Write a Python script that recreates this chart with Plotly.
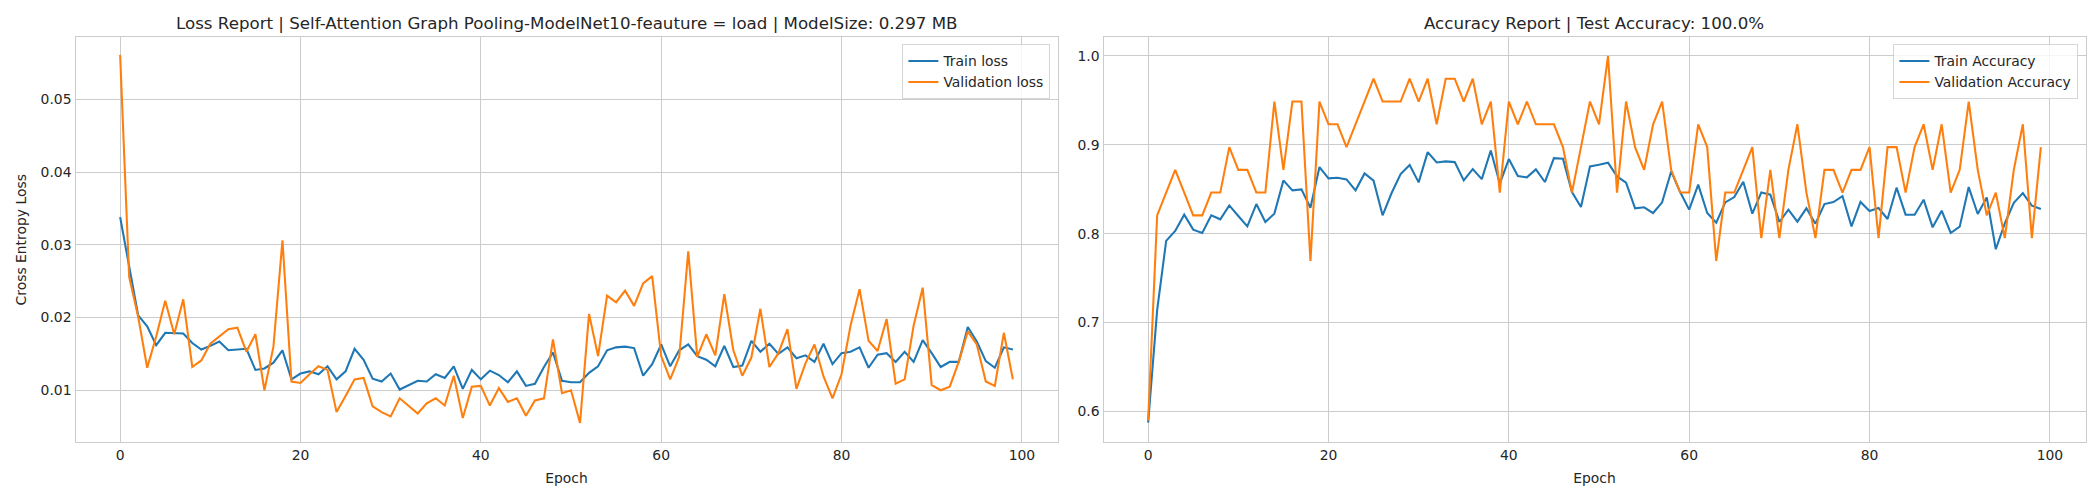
import plotly.graph_objects as go

epochs = list(range(100))

train_loss = [
    0.0338, 0.0270, 0.0203, 0.0188, 0.0162, 0.0179, 0.0179, 0.0178, 0.0165, 0.0156,
    0.0161, 0.0167, 0.0155, 0.0156, 0.0157, 0.0128, 0.0130, 0.0138, 0.0155, 0.0115,
    0.0123, 0.0126, 0.0122, 0.0133, 0.0115, 0.0126, 0.0157, 0.0142, 0.0116, 0.0112,
    0.0123, 0.0101, 0.0107, 0.0113, 0.0112, 0.0122, 0.0117, 0.0133, 0.0102, 0.0128,
    0.0115, 0.0127, 0.0121, 0.0111, 0.0126, 0.0106, 0.0109, 0.0132, 0.0152, 0.0113,
    0.0111, 0.0111, 0.0124, 0.0133, 0.0155, 0.0159, 0.0160, 0.0158, 0.0120, 0.0136,
    0.0163, 0.0133, 0.0155, 0.0163, 0.0147, 0.0142, 0.0133, 0.0161, 0.0132, 0.0134,
    0.0168, 0.0153, 0.0164, 0.0150, 0.0159, 0.0144, 0.0148, 0.0139, 0.0164, 0.0136,
    0.0151, 0.0153, 0.0159, 0.0131, 0.0149, 0.0151, 0.0139, 0.0153, 0.0139, 0.0169,
    0.0151, 0.0132, 0.0139, 0.0139, 0.0187, 0.0167, 0.0140, 0.0131, 0.0159, 0.0156,
]
val_loss = [
    0.0561, 0.0256, 0.0201, 0.0131, 0.0174, 0.0223, 0.0177, 0.0225, 0.0132, 0.0141,
    0.0164, 0.0174, 0.0184, 0.0186, 0.0153, 0.0177, 0.0100, 0.0160, 0.0306, 0.0112,
    0.0110, 0.0122, 0.0133, 0.0128, 0.0070, 0.0092, 0.0115, 0.0117, 0.0078, 0.0070,
    0.0064, 0.0089, 0.0079, 0.0068, 0.0082, 0.0089, 0.0079, 0.0120, 0.0062, 0.0105,
    0.0106, 0.0079, 0.0103, 0.0084, 0.0089, 0.0065, 0.0086, 0.0089, 0.0170, 0.0096,
    0.0100, 0.0055, 0.0205, 0.0147, 0.0230, 0.0221, 0.0237, 0.0216, 0.0247, 0.0257,
    0.0147, 0.0115, 0.0146, 0.0291, 0.0146, 0.0177, 0.0148, 0.0232, 0.0155, 0.0120,
    0.0145, 0.0212, 0.0132, 0.0151, 0.0184, 0.0102, 0.0137, 0.0163, 0.0119, 0.0089,
    0.0122, 0.0189, 0.0239, 0.0168, 0.0154, 0.0198, 0.0109, 0.0115, 0.0189, 0.0241,
    0.0107, 0.0100, 0.0105, 0.0139, 0.0181, 0.0163, 0.0112, 0.0106, 0.0179, 0.0115,
]
train_acc = [
    0.5873, 0.7139, 0.7918, 0.8030, 0.8213, 0.8045, 0.8007, 0.8206, 0.8161, 0.8318,
    0.8199, 0.8082, 0.8333, 0.8131, 0.8225, 0.8599, 0.8487, 0.8498, 0.8292, 0.8749,
    0.8622, 0.8629, 0.8610, 0.8487, 0.8678, 0.8596, 0.8206, 0.8457, 0.8670, 0.8772,
    0.8577, 0.8918, 0.8801, 0.8813, 0.8805, 0.8599, 0.8727, 0.8614, 0.8936, 0.8562,
    0.8839, 0.8648, 0.8633, 0.8723, 0.8581, 0.8850, 0.8843, 0.8468, 0.8300, 0.8757,
    0.8775, 0.8798, 0.8644, 0.8573, 0.8285, 0.8296, 0.8232, 0.8352, 0.8700, 0.8468,
    0.8270, 0.8551, 0.8232, 0.8124, 0.8352, 0.8412, 0.8584, 0.8225, 0.8464, 0.8438,
    0.8131, 0.8270, 0.8135, 0.8285, 0.8112, 0.8333, 0.8356, 0.8423, 0.8082, 0.8356,
    0.8255, 0.8288, 0.8165, 0.8517, 0.8213, 0.8213, 0.8382, 0.8071, 0.8258, 0.8007,
    0.8079, 0.8524, 0.8221, 0.8408, 0.7824, 0.8116, 0.8348, 0.8457, 0.8315, 0.8277,
]
val_acc = [
    0.5897, 0.8205, 0.8462, 0.8718, 0.8462, 0.8205, 0.8205, 0.8462, 0.8462, 0.8974,
    0.8718, 0.8718, 0.8462, 0.8462, 0.9487, 0.8718, 0.9487, 0.9487, 0.7692, 0.9487,
    0.9231, 0.9231, 0.8974, 0.9231, 0.9487, 0.9744, 0.9487, 0.9487, 0.9487, 0.9744,
    0.9487, 0.9744, 0.9231, 0.9744, 0.9744, 0.9487, 0.9744, 0.9231, 0.9487, 0.8462,
    0.9487, 0.9231, 0.9487, 0.9231, 0.9231, 0.9231, 0.8974, 0.8462, 0.8974, 0.9487,
    0.9231, 1.0000, 0.8462, 0.9487, 0.8974, 0.8718, 0.9231, 0.9487, 0.8718, 0.8462,
    0.8462, 0.9231, 0.8974, 0.7692, 0.8462, 0.8462, 0.8718, 0.8974, 0.7949, 0.8718,
    0.7949, 0.8718, 0.9231, 0.8462, 0.7949, 0.8718, 0.8718, 0.8462, 0.8718, 0.8718,
    0.8974, 0.7949, 0.8974, 0.8974, 0.8462, 0.8974, 0.9231, 0.8718, 0.9231, 0.8462,
    0.8718, 0.9487, 0.8718, 0.8205, 0.8462, 0.7949, 0.8718, 0.9231, 0.7949, 0.8974,
]

x_ticks = [0, 20, 40, 60, 80, 100]
loss_ticks = [0.01, 0.02, 0.03, 0.04, 0.05]
loss_tick_labels = ["0.01", "0.02", "0.03", "0.04", "0.05"]
acc_ticks = [0.6, 0.7, 0.8, 0.9, 1.0]
acc_tick_labels = ["0.6", "0.7", "0.8", "0.9", "1.0"]

title_loss = "Loss Report | Self-Attention Graph Pooling-ModelNet10-feauture = load | ModelSize: 0.297 MB"
title_acc = "Accuracy Report | Test Accuracy: 100.0%"

BLUE = "#1f77b4"
ORANGE = "#ff7f0e"
TXT = "#262626"
GRID = "#cccccc"
FONT = "DejaVu Sans"
W, H = 2100, 500


def xf(px):
    return px / W


def yf(py):
    return 1 - py / H


L1, R1, L2, R2, TOP, BOT = 75.5, 1057.5, 1103.5, 2085.5, 37.3, 442.3

fig = go.Figure()


def line(y, name, color, xa, ya, legend):
    fig.add_trace(go.Scatter(
        x=epochs, y=y, name=name, mode="lines",
        line=dict(color=color, width=2.08),
        xaxis=xa, yaxis=ya, legend=legend,
    ))


line(train_loss, "Train loss", BLUE, "x", "y", "legend")
line(val_loss, "Validation loss", ORANGE, "x", "y", "legend")
line(train_acc, "Train Accuracy", BLUE, "x2", "y2", "legend2")
line(val_acc, "Validation Accuracy", ORANGE, "x2", "y2", "legend2")

axis_common = dict(
    showgrid=True, gridcolor=GRID, gridwidth=1.39,
    showline=True, linecolor=GRID, linewidth=1.39, mirror=True,
    zeroline=False, ticks="", tickfont=dict(family=FONT, size=13.9, color=TXT),
)
title_font = dict(family=FONT, size=13.9, color=TXT)
legend_common = dict(
    bgcolor="rgba(255,255,255,0.8)", bordercolor="rgba(204,204,204,0.8)", borderwidth=1.39,
    font=dict(family=FONT, size=13.9, color=TXT),
    xanchor="right", yanchor="top", itemwidth=30, tracegroupgap=0,
)

fig.update_layout(
    width=W, height=H, autosize=False,
    margin=dict(l=0, r=0, t=0, b=0),
    paper_bgcolor="white", plot_bgcolor="white",
    font=dict(family=FONT, color=TXT),
    xaxis=dict(domain=[xf(L1), xf(R1)], range=[-4.95, 103.95], tickvals=x_ticks,
               title=dict(text="Epoch", font=title_font, standoff=11), anchor="y", **axis_common),
    yaxis=dict(domain=[yf(BOT), yf(TOP)], range=[0.00285, 0.05852], tickvals=loss_ticks,
               ticktext=loss_tick_labels,
               title=dict(text="Cross Entropy Loss", font=title_font, standoff=10), anchor="x", **axis_common),
    xaxis2=dict(domain=[xf(L2), xf(R2)], range=[-4.95, 103.95], tickvals=x_ticks,
                title=dict(text="Epoch", font=title_font, standoff=11), anchor="y2", **axis_common),
    yaxis2=dict(domain=[yf(BOT), yf(TOP)], range=[0.5651, 1.021], tickvals=acc_ticks,
                ticktext=acc_tick_labels, anchor="x2", **axis_common),
    legend=dict(x=xf(1050), y=yf(44), **legend_common),
    legend2=dict(x=xf(2078), y=yf(44), **legend_common),
    annotations=[
        dict(text=title_loss, x=xf((L1 + R1) / 2), y=yf(35), xref="paper", yref="paper",
             xanchor="center", yanchor="bottom", showarrow=False,
             font=dict(family=FONT, size=16.67, color=TXT)),
        dict(text=title_acc, x=xf((L2 + R2) / 2), y=yf(35), xref="paper", yref="paper",
             xanchor="center", yanchor="bottom", showarrow=False,
             font=dict(family=FONT, size=16.67, color=TXT)),
    ],
)

fig.write_html(
    "out.html",
    config={"displayModeBar": False},
    post_script="document.body.style.margin='0';document.body.style.overflow='hidden';",
)
